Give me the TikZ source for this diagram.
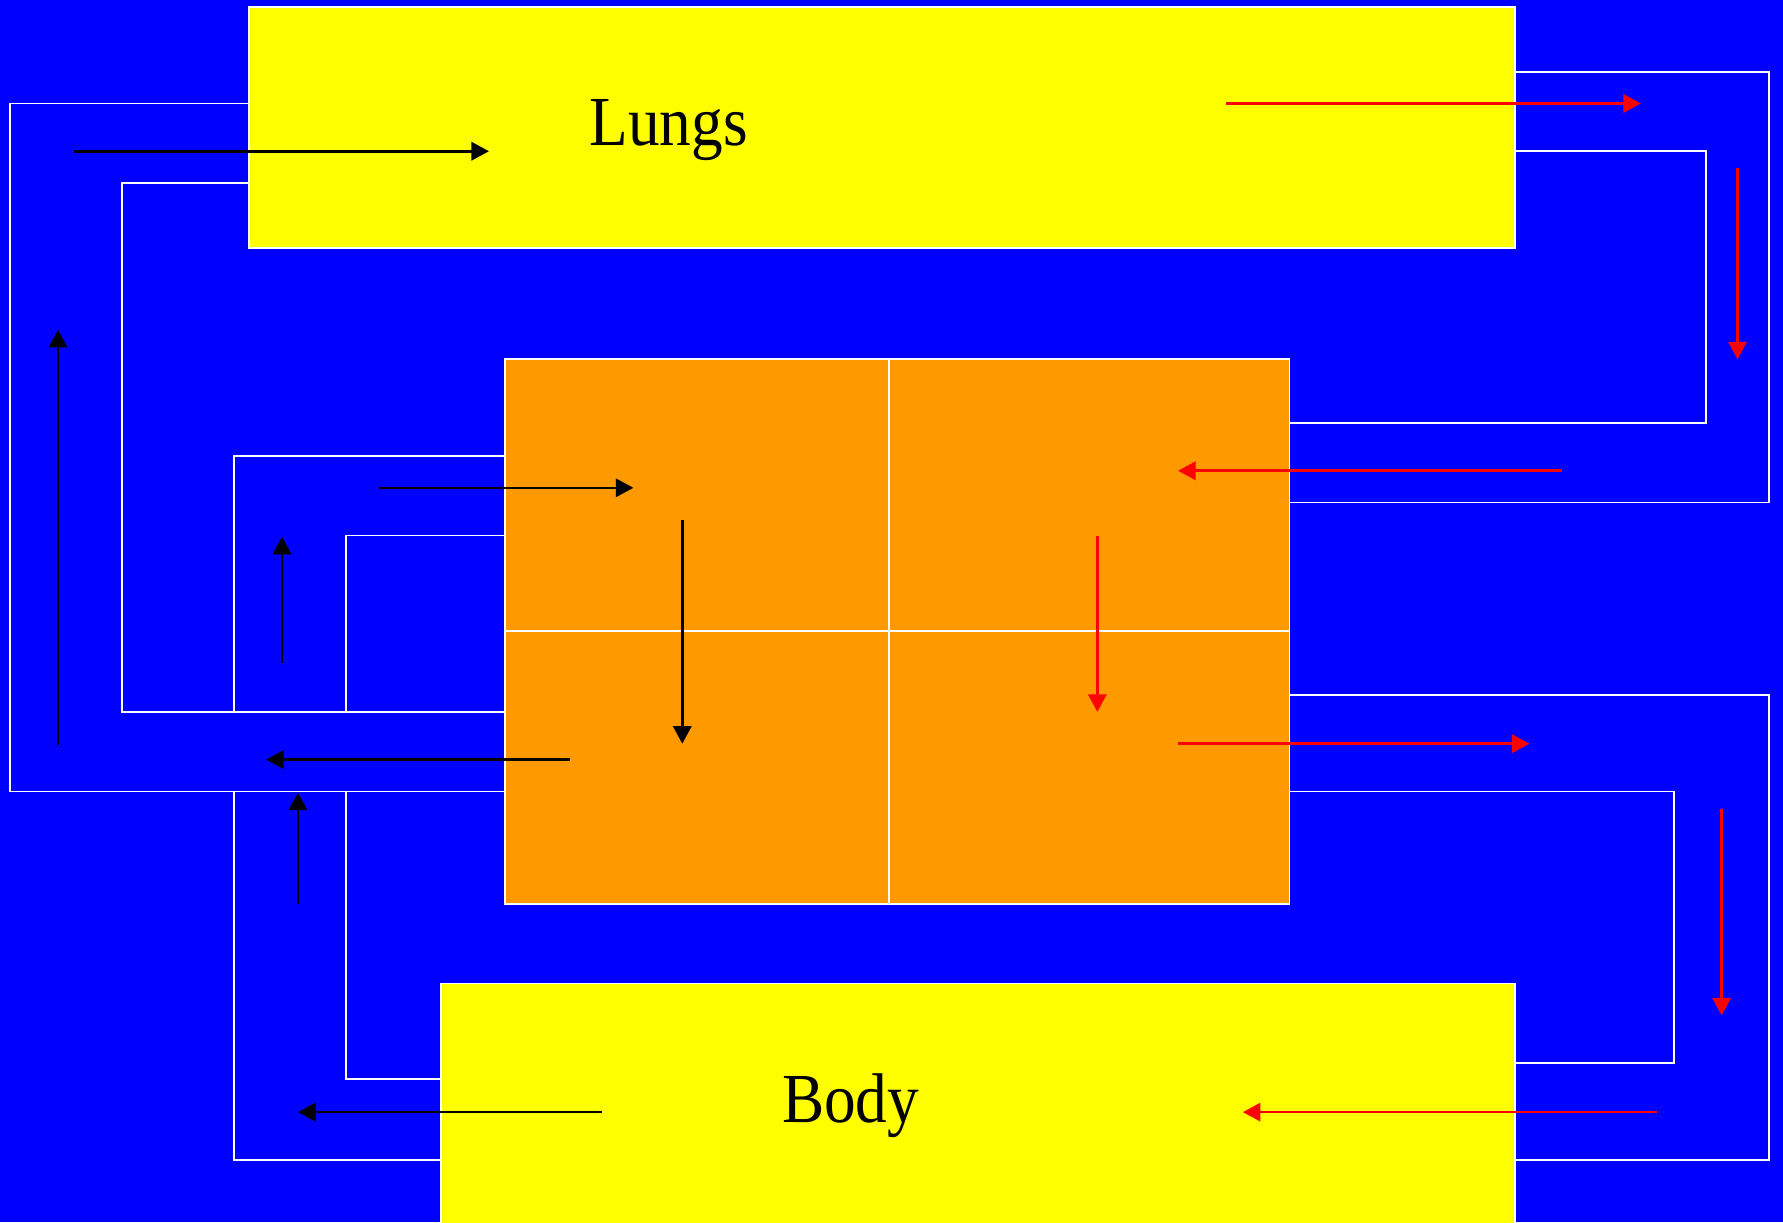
\documentclass[tikz,border=0pt]{standalone}
\usepackage{fontspec}
\setmainfont{Liberation Serif}
\usepackage{graphicx}
\usetikzlibrary{arrows.meta}
\definecolor{heartorange}{HTML}{FF9900}
\definecolor{flowblue}{HTML}{0000FF}
\definecolor{organyellow}{HTML}{FFFF00}
\definecolor{flowred}{HTML}{FF0000}
\begin{document}
\begin{tikzpicture}[x=0.011371cm, y=-0.011371cm,
  organ/.style={draw=white, line width=0.5pt, fill=organyellow, inner sep=0pt},
  chamber/.style={draw=white, line width=0.5pt, fill=heartorange, inner sep=0pt},
  vessel/.style={white, line width=0.5pt},
  venous/.style={black, line width=0.75pt, -{Triangle[length=5pt,width=5.2pt]}},
  arterial/.style={flowred, line width=0.75pt, -{Triangle[length=5pt,width=5.2pt]}},
  organlabel/.style={font=\fontsize{20}{24}\selectfont, anchor=base, inner sep=0pt}]
% Background
\fill[flowblue] (0,0) rectangle (1568,1075);
\useasboundingbox (0,0) rectangle (1568,1075);
% Vessels on the left
\draw[vessel] (219,91) -- (9,91) -- (9,696) -- (444,696);
\draw[vessel] (219,161) -- (107,161) -- (107,626) -- (444,626);
\draw[vessel] (444,401) -- (206,401) -- (206,626);
\draw[vessel] (444,471) -- (304,471) -- (304,626);
\draw[vessel] (206,696) -- (206,1020) -- (388,1020);
\draw[vessel] (304,696) -- (304,949) -- (388,949);
% Vessels on the right
\draw[vessel] (1332,63) -- (1556,63) -- (1556,442) -- (1134,442);
\draw[vessel] (1332,133) -- (1500,133) -- (1500,372) -- (1134,372);
\draw[vessel] (1134,611) -- (1556,611) -- (1556,1020) -- (1332,1020);
\draw[vessel] (1134,696) -- (1472,696) -- (1472,935) -- (1332,935);
% Lungs and body
\node[organ, minimum width=12.656cm, minimum height=2.411cm] (lungs) at (775.5,112) {};
\node[organlabel] (lungstext) at (588,128) {\scalebox{0.9}[1]{Lungs}};
\node[organ, minimum width=10.734cm, minimum height=2.558cm] (body) at (860,977.5) {};
\node[organlabel] (bodytext) at (748,987) {\scalebox{0.9}[1]{Body}};
% Heart (four chambers)
\node[chamber, minimum width=3.843cm, minimum height=2.718cm] (ra) at (613,435.5) {};
\node[chamber, minimum width=4.003cm, minimum height=2.718cm] (la) at (958,435.5) {};
\node[chamber, minimum width=3.843cm, minimum height=2.729cm] (rv) at (613,675) {};
\node[chamber, minimum width=4.003cm, minimum height=2.729cm] (lv) at (958,675) {};
% Deoxygenated flow
\draw[venous] (65,133) -- (430,133);
\draw[venous] (51,655) -- (51,290);
\draw[venous] (248,583) -- (248,472);
\draw[venous] (333,429) -- (557,429);
\draw[venous] (600,457) -- (600,654);
\draw[venous] (501,668) -- (234,668);
\draw[venous] (262,795) -- (262,697);
\draw[venous] (529,978) -- (262,978);
% Oxygenated flow
\draw[arterial] (1078,91) -- (1443,91);
\draw[arterial] (1528,148) -- (1528,316);
\draw[arterial] (1374,414) -- (1036,414);
\draw[arterial] (965,471) -- (965,626);
\draw[arterial] (1036,654) -- (1345,654);
\draw[arterial] (1514,711) -- (1514,893);
\draw[arterial] (1457,978) -- (1093,978);
\end{tikzpicture}
\end{document}
